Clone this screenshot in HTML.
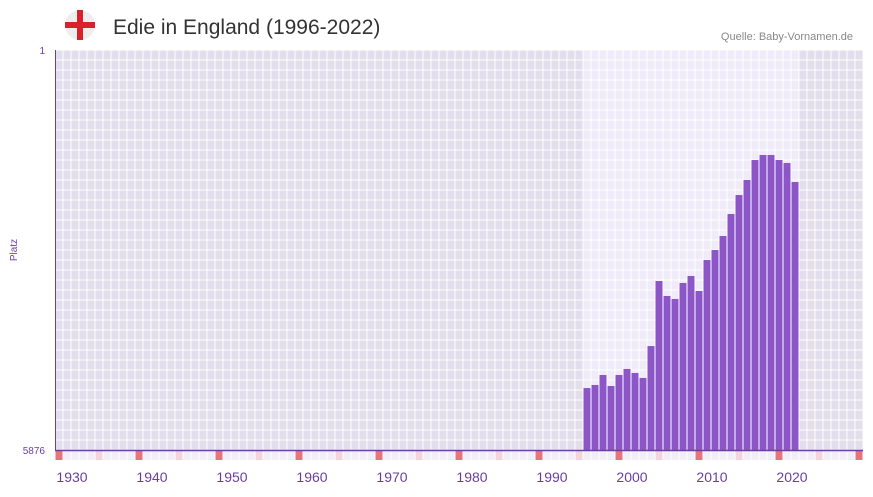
<!DOCTYPE html>
<html><head><meta charset="utf-8"><style>
body{margin:0;background:#fff;font-family:"Liberation Sans",sans-serif;}
</style></head><body>
<svg width="873" height="492" xmlns="http://www.w3.org/2000/svg">
<g>
<circle cx="80" cy="25" r="15" fill="#eeeeee"/>
<rect x="77" y="10" width="6" height="30" fill="#d8222a"/>
<rect x="65" y="22" width="30" height="6" fill="#d8222a"/>
</g>
<text x="113" y="34" font-size="21" fill="#333">Edie in England (1996-2022)</text>
<text x="853" y="40" font-size="11" fill="#888" text-anchor="end">Quelle: Baby-Vornamen.de</text>
<text x="45" y="54" font-size="10" fill="#6a3fa0" text-anchor="end">1</text>
<text x="45" y="454" font-size="10" fill="#6a3fa0" text-anchor="end">5876</text>
<text x="17" y="250" font-size="10" fill="#6a3fa0" text-anchor="middle" transform="rotate(-90 17 250)">Platz</text>
<g id="grid"></g>
<g id="bars"></g>
<g id="marks"></g>
<line x1="55.5" y1="50" x2="55.5" y2="451" stroke="#6a3fa0" stroke-width="1"/>
<line x1="55" y1="450.5" x2="863" y2="450.5" stroke="#6a3fa0" stroke-width="1.5"/>
<g id="xlabels"></g>
</svg>
<script>
const years=[1996,1997,1998,1999,2000,2001,2002,2003,2004,2005,2006,2007,2008,2009,2010,2011,2012,2013,2014,2015,2016,2017,2018,2019,2020,2021,2022];
const ranks=[4966,4921,4774,4936,4774,4686,4745,4818,4349,3394,3614,3658,3423,3320,3541,3086,2939,2733,2410,2131,1910,1617,1543,1543,1617,1661,1940];
const tickYears=[1930,1940,1950,1960,1970,1980,1990,2000,2010,2020];
const minYear=1930,maxYear=2030,maxRank=5876;
const NS="http://www.w3.org/2000/svg";
const L=55,R=863,T=50,B=450;
const cw=(R-L)/(maxYear-minYear+1);
function xs(y){return L+(y-minYear)*cw;}
function ys(r){return T+(r-1)/(maxRank-1)*(B-T);}
function el(t,a,p){const e=document.createElementNS(NS,t);for(const k in a)e.setAttribute(k,a[k]);p.appendChild(e);return e;}
const grid=document.getElementById('grid');
const y0=years[0],y1=years[years.length-1];
for(let y=minYear;y<=maxYear;y++){
  const inData=y>=y0&&y<=y1;
  for(let r=0;r<40;r++){
    const c=el('rect',{x:xs(y)+0.5,y:T+r*10+0.5,width:cw-1,height:9,fill:inData?'#efebf8':'#e2deeb'},grid);
    
    
  }
}
const bars=document.getElementById('bars');
years.forEach((y,i)=>{
  const top=ys(ranks[i]);
  const b=el('rect',{x:xs(y)+0.5,y:top,width:cw-1,height:B-top,fill:'#8c55c8'},bars);
  
  
});
const marks=document.getElementById('marks');
for(let y=minYear;y<=maxYear;y++){
  let f=(y%10===0)?'#e8727e':(y%5===0?'#f5d3de':'#f2eef8');
  const m=el('rect',{x:xs(y)+0.5,y:451,width:cw-1,height:9,fill:f},marks);
  
  
}
const xl=document.getElementById('xlabels');
tickYears.forEach(y=>{
  const t=el('text',{x:xs(y)+cw/2+13,y:482,'font-size':14,fill:'#6a3fa0','text-anchor':'middle'},xl);
  t.textContent=y;
  
  
});
</script>
</body></html>
